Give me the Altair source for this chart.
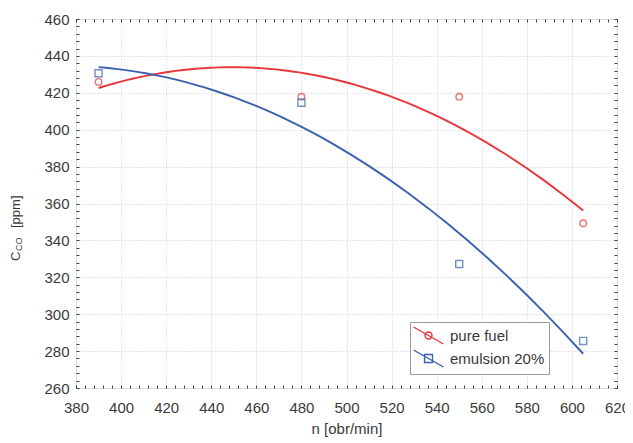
import altair as alt
import pandas as pd

# ---- data ----
n_values = [390, 480, 550, 605]
pure_fuel = [425.9, 417.9, 417.9, 349.3]
emulsion_20 = [430.6, 414.6, 327.2, 285.5]
series_names = ["pure fuel", "emulsion 20%"]
series_colors = ["#e8353b", "#3a61b0"]
x_major = list(range(380, 621, 20))
y_major = list(range(260, 461, 20))
x_minor = list(range(380, 621, 4))
y_minor = list(range(260, 461, 4))

df = pd.DataFrame({
    "n": n_values * 2,
    "value": pure_fuel + emulsion_20,
    "series": [series_names[0]] * len(n_values) + [series_names[1]] * len(n_values),
})

W, H = 541, 369
TXT = "#3a3a3a"
FONT = "Liberation Sans"
FS = 15
xs = alt.Scale(domain=[380, 620], nice=False, zero=False)
ys = alt.Scale(domain=[260, 460], nice=False, zero=False)
color_scale = alt.Scale(domain=series_names, range=series_colors)

x_main = alt.Axis(values=x_major, orient="bottom", title="n [obr/min]", labelFontSize=FS,
                  labelColor=TXT, labelFont=FONT, labelPadding=12, ticks=False, domain=False,
                  grid=True, gridColor="#cfcfcf", gridDash=[1, 2], gridWidth=1,
                  titleFontSize=FS, titleFontWeight="normal", titleColor=TXT, titleFont=FONT,
                  titleY=45, titleBaseline="alphabetic", labelFlush=False, labelOverlap=False)
y_main = alt.Axis(values=y_major, orient="left", title=None, labelFontSize=FS, labelColor=TXT,
                  labelFont=FONT, labelPadding=7, ticks=False, domain=False, grid=True,
                  gridColor="#cfcfcf", gridDash=[1, 2], gridWidth=1, labelOverlap=False)


def tick_axis(orient, offset, vals):
    return alt.Axis(orient=orient, offset=offset, values=vals, labels=False, ticks=True,
                    tickSize=3, tickColor="#404040", tickWidth=1, domain=False, grid=False,
                    title=None)


base = alt.Chart(df)


def fit_line(name, color, xaxis, yaxis):
    return base.transform_filter(alt.datum.series == name).transform_regression(
        "n", "value", method="poly", order=2
    ).mark_line(strokeWidth=1.9, color=color).encode(
        x=alt.X("n:Q", scale=xs, axis=xaxis),
        y=alt.Y("value:Q", scale=ys, axis=yaxis),
    )


red_line = fit_line(series_names[0], series_colors[0], x_main, y_main)
blue_line = fit_line(series_names[1], series_colors[1], None, None)

ticks_a = base.mark_point(opacity=0).encode(
    x=alt.X("n:Q", scale=xs, axis=tick_axis("top", -H, x_minor)),
    y=alt.Y("value:Q", scale=ys, axis=tick_axis("right", -W, y_minor)),
)
ticks_b = base.mark_point(opacity=0).encode(
    x=alt.X("n:Q", scale=xs, axis=tick_axis("bottom", -H, x_minor)),
    y=alt.Y("value:Q", scale=ys, axis=tick_axis("left", -W, y_minor)),
)

red_pts = base.transform_filter(alt.datum.series == series_names[0]).mark_point(
    shape="circle", filled=False, size=42, strokeWidth=1.4, color=series_colors[0]
).encode(x=alt.X("n:Q", scale=xs, axis=None), y=alt.Y("value:Q", scale=ys, axis=None))

blue_pts = base.transform_filter(alt.datum.series == series_names[1]).mark_point(
    shape="square", filled=False, size=50, strokeWidth=1.4, color=series_colors[1]
).encode(x=alt.X("n:Q", scale=xs, axis=None), y=alt.Y("value:Q", scale=ys, axis=None))

path_circle = ("M-1.76,-1L1.76,1M0.41,0A0.41,0.41,0,1,1,-0.41,0"
               "A0.41,0.41,0,1,1,0.41,0")
path_square = "M-1.76,-1L1.76,1M-0.47,-0.47H0.47V0.47H-0.47Z"

legend = alt.Legend(orient="none", legendX=334, legendY=303, title=None, labelFontSize=FS,
                    labelColor=TXT, labelFont=FONT, symbolSize=289, symbolStrokeWidth=1.4,
                    padding=4, strokeColor="#9a9a9a", fillColor="white", labelOffset=12,
                    symbolOffset=5, rowPadding=0, symbolOpacity=1)

legend_layer = base.mark_point(filled=False, strokeWidth=1.4, opacity=0).encode(
    x=alt.X("n:Q", scale=xs, axis=None),
    y=alt.Y("value:Q", scale=ys, axis=None),
    color=alt.Color("series:N", scale=color_scale, legend=legend),
    shape=alt.Shape("series:N", scale=alt.Scale(domain=series_names,
                                                range=[path_circle, path_square]),
                    legend=legend),
)


def title_part(txt, x, y, size):
    return alt.Chart(pd.DataFrame({"t": [txt]})).mark_text(
        angle=270, align="left", baseline="alphabetic", fontSize=size, font=FONT, color=TXT
    ).encode(text="t:N", x=alt.value(x), y=alt.value(y))


y_title = [title_part("C", -56, 242, 13), title_part("CO", -54, 232, 9),
           title_part("[ppm]", -56, 209, 13)]

chart = alt.layer(red_line, blue_line, ticks_a, ticks_b, red_pts, blue_pts, legend_layer,
                  *y_title).resolve_axis(
    x="independent", y="independent"
).properties(
    width=W, height=H,
    autosize=alt.AutoSizeParams(type="none"),
    padding={"left": 68, "top": 11, "right": 8, "bottom": 49},
).configure_view(stroke="#444444", strokeWidth=2).configure(font=FONT)

chart.save("out.html", embed_options={"renderer": "svg", "actions": False})
